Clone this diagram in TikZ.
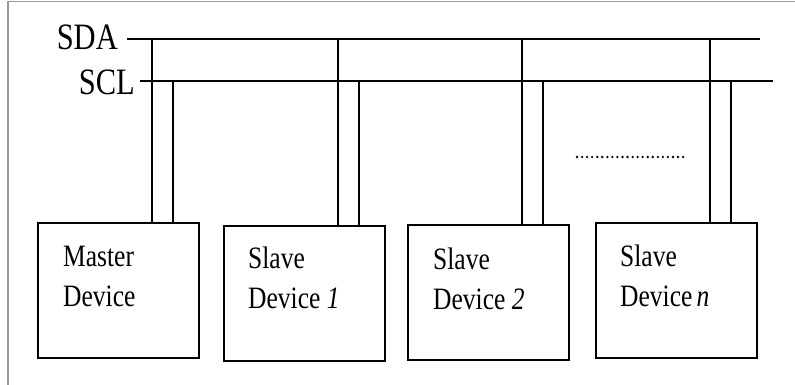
\documentclass[tikz,border=0pt]{standalone}
\usepackage{fontspec}
\setmainfont{Liberation Serif}
\begin{document}
\begin{tikzpicture}[x=1pt,y=-1pt,
  bus/.style={line width=2.2pt},
  devbox/.style={draw, line width=2.6pt, minimum width=161pt, minimum height=135pt, inner sep=0pt, outer sep=0pt, anchor=north west},
  devtext/.style={anchor=base west, align=left, inner sep=0pt, font=\fontsize{25.5}{32}\selectfont, yscale=1.22},
  bustext/.style={anchor=base east, inner sep=0pt, font=\fontsize{30.5}{36}\selectfont, yscale=1.22}]
\useasboundingbox (0,0) rectangle (795,385);
\draw[black!40, line width=1.2pt] (795,1.5) -- (8,1.5) -- (8,385);
% device boxes
\node[devbox] (master) at (38,223) {};
\node[devbox] (slave1) at (224,226) {};
\node[devbox] (slave2) at (408,225) {};
\node[devbox] (slaven) at (596,223) {};
% labels (anchored at the baseline of the last line)
\node[devtext] (tmaster) at (63,306) {Master\\Device};
\node[devtext] (tslave1) at (248,308) {Slave\\Device \textit{1}};
\node[devtext] (tslave2) at (433,309) {Slave\\Device \textit{2}};
\node[devtext] (tslaven) at (620,306) {Slave\\Device\,\textit{n}};
% bus lines
\coordinate (sdaL) at (127,39); \coordinate (sdaR) at (760,39);
\coordinate (sclL) at (140,81); \coordinate (sclR) at (773,81);
\node[bustext] (sda) at (118,50) {SDA};
\node[bustext] (scl) at (135,95) {SCL};
\draw[bus] (sdaL) -- (sdaR);
\draw[bus] (sclL) -- (sclR);
\foreach \b in {master,slave1,slave2,slaven}{
  \coordinate (\b-a) at ([xshift=114pt]\b.north west);
  \coordinate (\b-c) at ([xshift=135pt]\b.north west);
  \draw[bus] (\b-a) -- (\b-a |- sdaL);
  \draw[bus] (\b-c) -- (\b-c |- sclL);
}
% dots
\coordinate (dotsL) at (577,157); \coordinate (dotsR) at (684,157);
\draw[line width=2.6pt, line cap=round, dash pattern=on 0pt off 5.05pt] (dotsL) -- (dotsR);
\end{tikzpicture}
\end{document}
